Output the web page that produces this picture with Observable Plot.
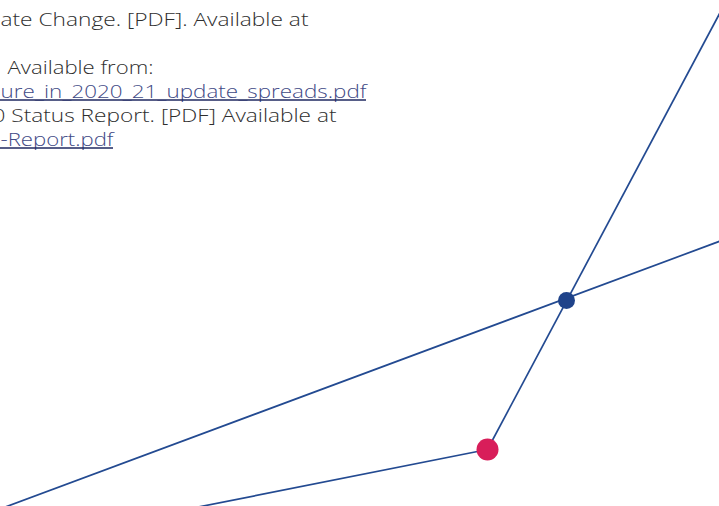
<!DOCTYPE html>
<html>
<head>
<meta charset="utf-8">
<script src="https://cdn.jsdelivr.net/npm/d3@7"></script>
<script src="https://cdn.jsdelivr.net/npm/@observablehq/plot@0.6"></script>
<style>
  html, body { margin: 0; padding: 0; background: #ffffff; overflow: hidden; }
  #chart svg { display: block; }
</style>
</head>
<body>
<div id="chart"></div>
<script>
// Reference text lines (cropped page of a bibliography)
const textLines = [
  "ate Change. [PDF]. Available at",
  "Available from:",
  "ure_in_2020_21_update_spreads.pdf",
  "0 Status Report. [PDF] Available at",
  "-Report.pdf"
];
const textX = [0, 7, 0, -8, 0];
const textY = [25, 73, 97, 121, 145];
const textWidth = [308, 146, 366, 344, 113];
const textIsLink = [false, false, true, false, true];

// Network decoration: line segments (start / end)
const segX1 = [-10, 487, 487];
const segY1 = [512, 449, 449];
const segX2 = [740, 726, 150];
const segY2 = [233, 0, 516];

// Nodes
const nodeX = [566, 487];
const nodeY = [300, 449];
const nodeR = [8.5, 11];
const nodeColor = ["#1f438a", "#d81e5a"];

const W = 719, H = 506;

const texts = textLines.map((t, i) => ({t, x: textX[i], y: textY[i], link: textIsLink[i], w: textWidth[i]}));
const segs = segX1.map((x1, i) => ({x1, y1: segY1[i], x2: segX2[i], y2: segY2[i]}));
const nodes = nodeX.map((x, i) => ({x, y: nodeY[i], r: nodeR[i], c: nodeColor[i]}));

const plot = Plot.plot({
  width: W,
  height: H,
  margin: 0,
  x: {type: "linear", domain: [0, W], range: [0, W], axis: null},
  y: {type: "linear", domain: [0, H], range: [0, H], axis: null},
  r: {type: "identity"},
  style: {background: "#ffffff", overflow: "hidden"},
  marks: [
    Plot.link(segs, {x1: "x1", y1: "y1", x2: "x2", y2: "y2", stroke: "#234a91", strokeWidth: 1.7, clip: true}),
    Plot.dot(nodes, {x: "x", y: "y", r: "r", fill: "c", stroke: null}),
    Plot.text(texts, {
      x: "x", y: "y", text: "t",
      textAnchor: "start", lineAnchor: "bottom",
      fontFamily: "'Open Sans', Lato, sans-serif", fontSize: 19, fontWeight: 300,
      fill: d => d.link ? "#3f4a86" : "#2e2e2e",
      clip: true
    }),
    Plot.ruleY(texts.filter(d => d.link), {
      y: d => d.y + 2.5,
      x1: d => Math.max(0, d.x),
      x2: d => d.x + d.w,
      stroke: "#1f2860", strokeWidth: 1.5
    })
  ]
});

// fit text widths to the reference
d3.select(plot).selectAll("text").each(function(d, i) {
  const idx = typeof d === "number" ? d : i;
  if (texts[idx]) {
    d3.select(this).attr("textLength", texts[idx].w).attr("lengthAdjust", "spacingAndGlyphs");
  }
});

document.getElementById("chart").appendChild(plot);
</script>
</body>
</html>
